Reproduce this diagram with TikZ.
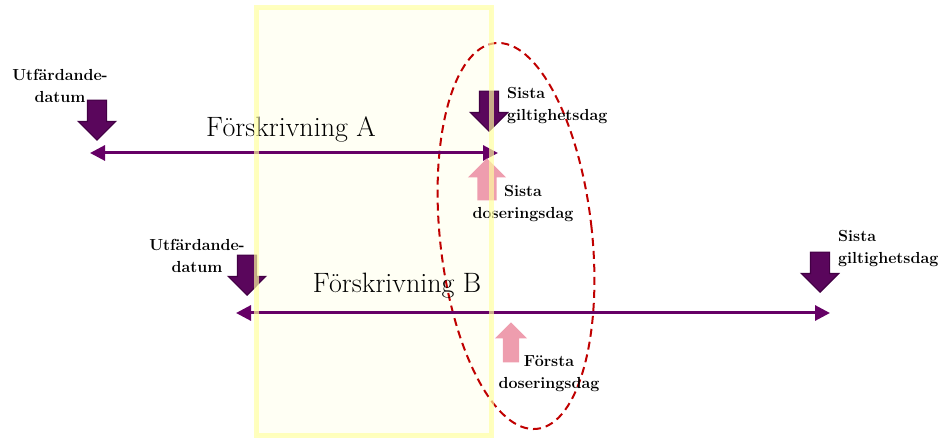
\documentclass[tikz,border=0pt]{standalone}
\usepackage{fontspec}
\usetikzlibrary{arrows.meta,shapes.geometric,shapes.arrows}
\definecolor{lineviolet}{RGB}{102,0,102}
\definecolor{markviolet}{RGB}{90,6,92}
\definecolor{markedge}{RGB}{66,0,68}
\definecolor{markpink}{RGB}{238,157,174}
\definecolor{ovalred}{RGB}{192,0,0}
\definecolor{windowfill}{RGB}{255,255,244}
\definecolor{windowedge}{RGB}{255,255,160}
\begin{document}
\begin{tikzpicture}[
		x=1pt,y=-1pt,
		timeline/.style={
			{Triangle[length=15pt,width=15pt]}-{Triangle[length=15pt,width=15pt]},
			draw=lineviolet,
			line width=3pt
		},
		marker/.style={
			single arrow,
			single arrow head extend=9pt,
			inner xsep=0pt,
			inner ysep=9pt,
			minimum height=40pt,
			anchor=tip
		},
		validmark/.style={
			marker,
			rotate=-90,
			fill=markviolet,
			draw=markedge,
			line width=1.2pt
		},
		dosemark/.style={
			marker,
			rotate=90,
			fill=markpink
		},
		datelabel/.style={
			font=\bfseries\fontsize{16}{22.5}\selectfont,
			inner sep=0pt,
			align=center,
			anchor=north
		},
		titletext/.style={
			font=\fontsize{28}{32}\selectfont,
			inner sep=0pt,
			anchor=base
		},
		oval/.style={
			ellipse,
			draw=ovalred,
			line width=2pt,
			dash pattern=on 8pt off 5pt
		}
		]
		\useasboundingbox (0,0) rectangle (938,438);
		\fill[windowfill] (256,8) rectangle (491.5,436);
		
		\node[oval,rotate=6.2,minimum width=152pt,minimum height=388pt] (overlap) at (516,236) {};
		
		\coordinate (startA) at (90,153);
		\coordinate (endA) at (498,153);
		\coordinate (startB) at (236,313);
		\coordinate (endB) at (830,313);
		\draw[timeline] (startA) -- (endA);
		\draw[timeline] (startB) -- (endB);
		
		\node[titletext] (titleA) at (291,137) {Förskrivning A};
		\node[titletext] (titleB) at (397,293) {Förskrivning B};
		
		\node[validmark] (issueAmark) at (97,141) {};
		\node[datelabel] (issueA) at (60,69) {Utfärdande-\\datum};
		\node[validmark] (validAmark) at (489,132) {};
		\node[datelabel,align=left,anchor=north west] (validA) at (507,87) {Sista\\giltighetsdag};
		\node[dosemark,single arrow head extend=9.5pt,inner ysep=9.5pt,minimum height=42pt] (doseAmark) at (487,158) {};
		\node[datelabel] (doseA) at (523,185) {Sista\\doseringsdag};
		
		\node[validmark] (issueBmark) at (247,296) {};
		\node[datelabel] (issueB) at (197,239) {Utfärdande-\\datum};
		\node[validmark] (validBmark) at (820,293) {};
		\node[datelabel,align=left,anchor=north west] (validB) at (838,230) {Sista\\giltighetsdag};
		\node[dosemark,single arrow head extend=8pt,inner ysep=8pt] (doseBmark) at (511,322) {};
		\node[datelabel] (doseB) at (549,355) {Första\\doseringsdag};
		
		\draw[windowedge,line width=5pt,draw opacity=0.67] (256,8) rectangle (491.5,436);
\end{tikzpicture}
\end{document}
